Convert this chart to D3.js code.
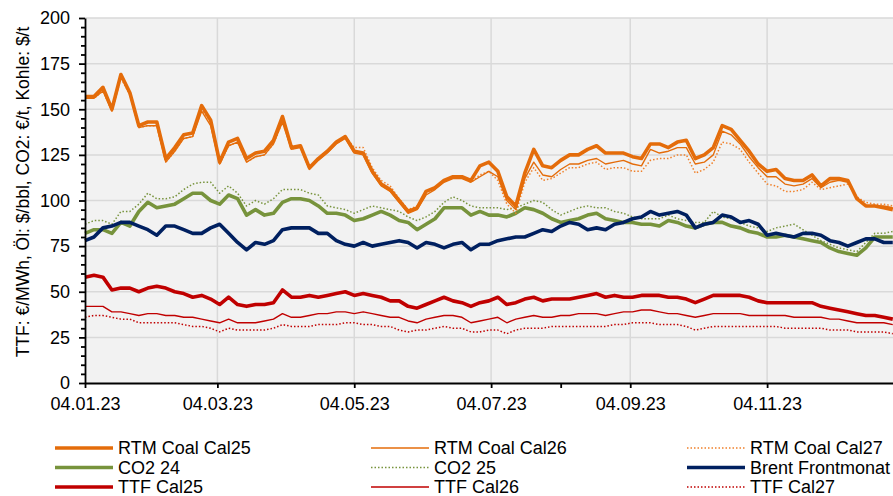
<!DOCTYPE html>
<html>
<head>
<meta charset="utf-8">
<title>Energiepreise 2023</title>
<style>
body {margin: 0; background: #fff;}
text {font-family: "Liberation Sans", Arial, sans-serif; fill: #000;}
.axis text {font-size: 18px;}
.legend text {font-size: 18px;}
</style>
</head>
<body>
<div id="chart"></div>
<script src="https://cdn.jsdelivr.net/npm/d3@7"></script>
<script>
// sampling dates (every 4 days)
var dates = ['2023-01-04','2023-01-08','2023-01-12','2023-01-16','2023-01-20','2023-01-24','2023-01-28',
	'2023-02-01','2023-02-05','2023-02-09','2023-02-13','2023-02-17','2023-02-21','2023-02-25',
	'2023-03-01','2023-03-05','2023-03-09','2023-03-13','2023-03-17','2023-03-21','2023-03-25','2023-03-29',
	'2023-04-02','2023-04-06','2023-04-10','2023-04-14','2023-04-18','2023-04-22','2023-04-26','2023-04-30',
	'2023-05-04','2023-05-08','2023-05-12','2023-05-16','2023-05-20','2023-05-24','2023-05-28',
	'2023-06-01','2023-06-05','2023-06-09','2023-06-13','2023-06-17','2023-06-21','2023-06-25','2023-06-29',
	'2023-07-03','2023-07-07','2023-07-11','2023-07-15','2023-07-19','2023-07-23','2023-07-27','2023-07-31',
	'2023-08-04','2023-08-08','2023-08-12','2023-08-16','2023-08-20','2023-08-24','2023-08-28',
	'2023-09-01','2023-09-05','2023-09-09','2023-09-13','2023-09-17','2023-09-21','2023-09-25','2023-09-29',
	'2023-10-03','2023-10-07','2023-10-11','2023-10-15','2023-10-19','2023-10-23','2023-10-27','2023-10-31',
	'2023-11-04','2023-11-08','2023-11-12','2023-11-16','2023-11-20','2023-11-24','2023-11-28',
	'2023-12-02','2023-12-06','2023-12-10','2023-12-14','2023-12-18','2023-12-22','2023-12-26','2023-12-30'];

var coalCal25 = [157,157,162,150,169,159,141,143,143,123,129,136,137,152,144,121,132,134,123,126,127,133,146,129,130,118,123,127,132,135,
	127,126,116,109,106,100,94,96,105,107,111,113,113,111,119,121,116,102,97,115,128,119,118,122,125,125,128,130,126,126,
	126,124,123,131,131,129,132,133,123,125,129,141,139,133,127,120,116,117,112,111,111,114,108,112,112,111,101,97,97,96,95];
var coalCal26 = [156,156,160,149,168,158,140,141,141,121,127,134,135,149,141,120,130,132,121,124,125,131,143,128,129,117,122,126,131,134,
	126,125,115,108,105,99,93,95,103,106,110,112,112,110,113,116,113,100,95,112,121,114,113,117,120,120,122,123,120,121,
	122,120,119,128,126,127,129,129,120,121,125,138,136,131,124,118,113,113,109,108,109,112,107,110,111,110,101,97,97,97,96];
var coalCal27 = [156,156,160,149,167,158,140,141,141,121,127,134,135,150,143,120,130,132,121,124,125,131,143,128,130,118,123,127,132,135,
	129,129,118,111,108,101,95,97,105,107,111,113,113,110,114,116,111,98,93,110,118,111,112,115,118,118,120,121,117,118,
	118,116,116,122,123,123,125,125,115,117,121,132,131,128,121,115,109,108,105,105,106,110,106,107,108,109,102,99,98,98,97];
var co2Dec24 = [82,84,84,82,88,86,94,99,96,97,98,101,104,104,100,98,103,101,92,95,92,93,99,101,101,100,97,93,93,92,
	89,90,92,94,92,89,88,84,87,90,96,96,96,92,94,92,92,91,93,96,95,93,90,88,89,90,92,93,90,89,
	88,88,87,87,86,89,88,86,85,87,88,88,86,85,83,82,80,80,81,80,79,78,77,74,72,71,70,74,80,80,80];
var co2Dec25 = [87,89,89,87,94,94,98,104,101,101,102,106,109,110,110,104,108,104,97,100,98,101,106,106,106,104,103,97,96,95,
	93,95,97,96,95,94,91,89,91,94,99,102,100,97,96,96,96,95,96,98,100,99,95,92,94,96,97,96,96,94,
	93,91,90,90,90,92,90,89,88,88,94,91,90,88,86,85,83,85,86,87,84,81,78,76,74,73,72,77,82,82,83];
var brent = [78,80,85,86,88,88,86,84,81,86,86,84,82,82,85,87,82,77,73,77,76,78,84,85,85,85,82,82,78,76,
	75,77,75,76,77,78,77,74,77,76,74,76,77,73,76,76,78,79,80,80,82,84,83,86,88,87,84,85,84,87,
	88,90,91,94,92,93,94,92,85,87,88,92,91,88,89,87,81,82,81,80,82,82,81,78,77,75,77,79,79,77,77];
var ttfCal25 = [58,59,58,51,52,52,50,52,53,52,50,49,47,48,46,43,47,43,42,43,43,44,51,47,47,48,47,48,49,50,
	48,49,48,47,45,45,42,41,43,45,47,45,44,42,44,45,47,43,44,46,47,45,46,46,46,47,48,49,47,48,
	47,47,48,48,48,47,47,46,44,46,48,48,48,48,47,45,44,44,44,44,44,44,42,41,40,39,38,37,37,36,35];
var ttfCal26 = [42,42,42,39,39,38,37,38,38,37,37,36,36,35,34,33,35,33,33,33,34,35,38,36,36,37,38,38,39,39,
	38,39,38,37,36,36,34,33,35,36,37,37,36,33,34,35,36,33,35,36,37,36,36,37,37,38,38,38,37,38,
	39,39,40,40,39,38,38,37,36,37,38,38,38,38,37,37,37,37,37,36,36,36,36,35,35,34,33,33,33,33,32];
var ttfCal27 = [36,37,37,36,35,35,33,33,33,33,33,32,31,31,30,28,30,29,29,29,29,30,32,31,31,31,32,32,32,33,
	33,32,32,31,31,29,28,29,29,30,31,30,30,28,28,29,29,27,29,30,30,30,31,31,31,31,31,31,31,32,
	32,33,33,33,32,32,32,31,29,30,31,31,31,31,31,31,31,31,30,30,30,30,30,29,29,29,28,28,28,28,27];

var legendNames = ['RTM Coal Cal25','RTM Coal Cal26','RTM Coal Cal27','CO2 24','CO2 25','Brent Frontmonat','TTF Cal25','TTF Cal26','TTF Cal27'];
var xTickDates = ['2023-01-04','2023-03-04','2023-05-04','2023-07-04','2023-09-04','2023-11-04'];
var xMinorDates = ['2023-08-04'];
var yTicks = [0,25,50,75,100,125,150,175,200];

(function(d3) {
	var width = 893;
	var height = 496;
	var left = 85, top = 18, bottom = 383, right = 895;

	var parse = d3.timeParse('%Y-%m-%d');
	var fmt = d3.timeFormat('%d.%m.%y');

	var orange = '#e46c0a', green = '#77933c', navy = '#002060', red = '#c00000';
	// style for each legend entry, same order as legendNames
	var styles = [
		{color: orange, w: 3.6, dash: null},
		{color: orange, w: 1.4, dash: null},
		{color: '#f0802a', w: 1.5, dash: '1.5,2'},
		{color: green, w: 3.6, dash: null},
		{color: green, w: 1.5, dash: '1.5,2'},
		{color: navy, w: 3.6, dash: null},
		{color: red, w: 3.6, dash: null},
		{color: red, w: 1.4, dash: null},
		{color: red, w: 1.5, dash: '1.5,2'}
	];
	var values = [coalCal25, coalCal26, coalCal27, co2Dec24, co2Dec25, brent, ttfCal25, ttfCal26, ttfCal27];
	var drawOrder = [8, 7, 6, 4, 3, 5, 2, 1, 0];

	var x = d3.scaleTime()
		.domain([parse('2023-01-04'), parse('2023-12-31')])
		.range([left, right]);
	var y = d3.scaleLinear()
		.domain([0, 200])
		.range([bottom, top]);

	var svg = d3.select('#chart')
		.append('svg')
		.attr('width', width)
		.attr('height', height);

	svg.append('rect')
		.attr('x', left)
		.attr('y', top)
		.attr('width', right - left)
		.attr('height', bottom - top)
		.attr('fill', '#f2f2f2');

	// grid
	svg.append('g').selectAll('line')
		.data(yTicks.slice(1))
		.enter()
		.append('line')
		.attr('x1', left).attr('x2', right)
		.attr('y1', function(d) { return y(d); })
		.attr('y2', function(d) { return y(d); })
		.attr('stroke', '#d9d9d9')
		.attr('stroke-width', 1.5);
	svg.append('g').selectAll('line')
		.data(xTickDates.slice(1))
		.enter()
		.append('line')
		.attr('x1', function(d) { return x(parse(d)); })
		.attr('x2', function(d) { return x(parse(d)); })
		.attr('y1', top).attr('y2', bottom)
		.attr('stroke', '#d9d9d9')
		.attr('stroke-width', 1.5);

	var line = d3.line()
		.x(function(d, i) { return x(parse(dates[i])); })
		.y(function(d) { return y(d); });

	drawOrder.forEach(function(s) {
		svg.append('path')
			.attr('d', line(values[s]))
			.attr('fill', 'none')
			.attr('stroke', styles[s].color)
			.attr('stroke-width', styles[s].w)
			.attr('stroke-linejoin', 'round')
			.attr('stroke-dasharray', styles[s].dash);
	});

	// axes
	var yMinor = d3.range(0, 201, 5).filter(function(v) { return v % 25 !== 0; });
	svg.append('g')
		.attr('class', 'axis')
		.attr('transform', 'translate(' + left + ',0)')
		.call(d3.axisLeft(y).tickValues(yMinor).tickSize(4).tickSizeOuter(0).tickFormat(''))
		.call(function(g) { g.select('.domain').remove(); });
	svg.append('g')
		.attr('class', 'axis')
		.attr('transform', 'translate(' + left + ',0)')
		.call(d3.axisLeft(y).tickValues(yTicks).tickSize(6).tickSizeOuter(0).tickPadding(9));
	svg.append('g')
		.attr('class', 'axis')
		.attr('transform', 'translate(0,' + bottom + ')')
		.call(d3.axisBottom(x).tickValues(xMinorDates.map(parse)).tickSize(5).tickFormat(''))
		.call(function(g) { g.select('.domain').remove(); });
	svg.append('g')
		.attr('class', 'axis')
		.attr('transform', 'translate(0,' + bottom + ')')
		.call(d3.axisBottom(x).tickValues(xTickDates.map(parse)).tickFormat(fmt).tickSize(5).tickSizeOuter(0).tickPadding(9));
	svg.selectAll('.axis path, .axis line')
		.attr('stroke', '#000')
		.attr('stroke-width', 1.8);
	svg.selectAll('.axis text').attr('font-family', null);

	svg.append('text')
		.attr('transform', 'translate(23,192) rotate(-90)')
		.attr('text-anchor', 'middle')
		.attr('dy', '0.35em')
		.style('font-size', '17.5px')
		.text('TTF: €/MWh, Öl: $/bbl, CO2: €/t, Kohle: $/t');

	// legend, 3 columns
	var colX = [55, 371, 687];
	var legend = svg.selectAll('.legend')
		.data(legendNames)
		.enter()
		.append('g')
		.attr('class', 'legend')
		.attr('transform', function(d, i) {
			return 'translate(' + colX[i % 3] + ',' + (448 + Math.floor(i / 3) * 19.5) + ')';
		});
	legend.append('line')
		.attr('x1', 0).attr('x2', 58)
		.attr('stroke', function(d, i) { return styles[i].color; })
		.attr('stroke-width', function(d, i) { return styles[i].w; })
		.attr('stroke-dasharray', function(d, i) { return styles[i].dash; });
	legend.append('text')
		.attr('x', 63)
		.attr('dy', '0.36em')
		.text(function(d) { return d; });
})(window.d3);
</script>
</body>
</html>
